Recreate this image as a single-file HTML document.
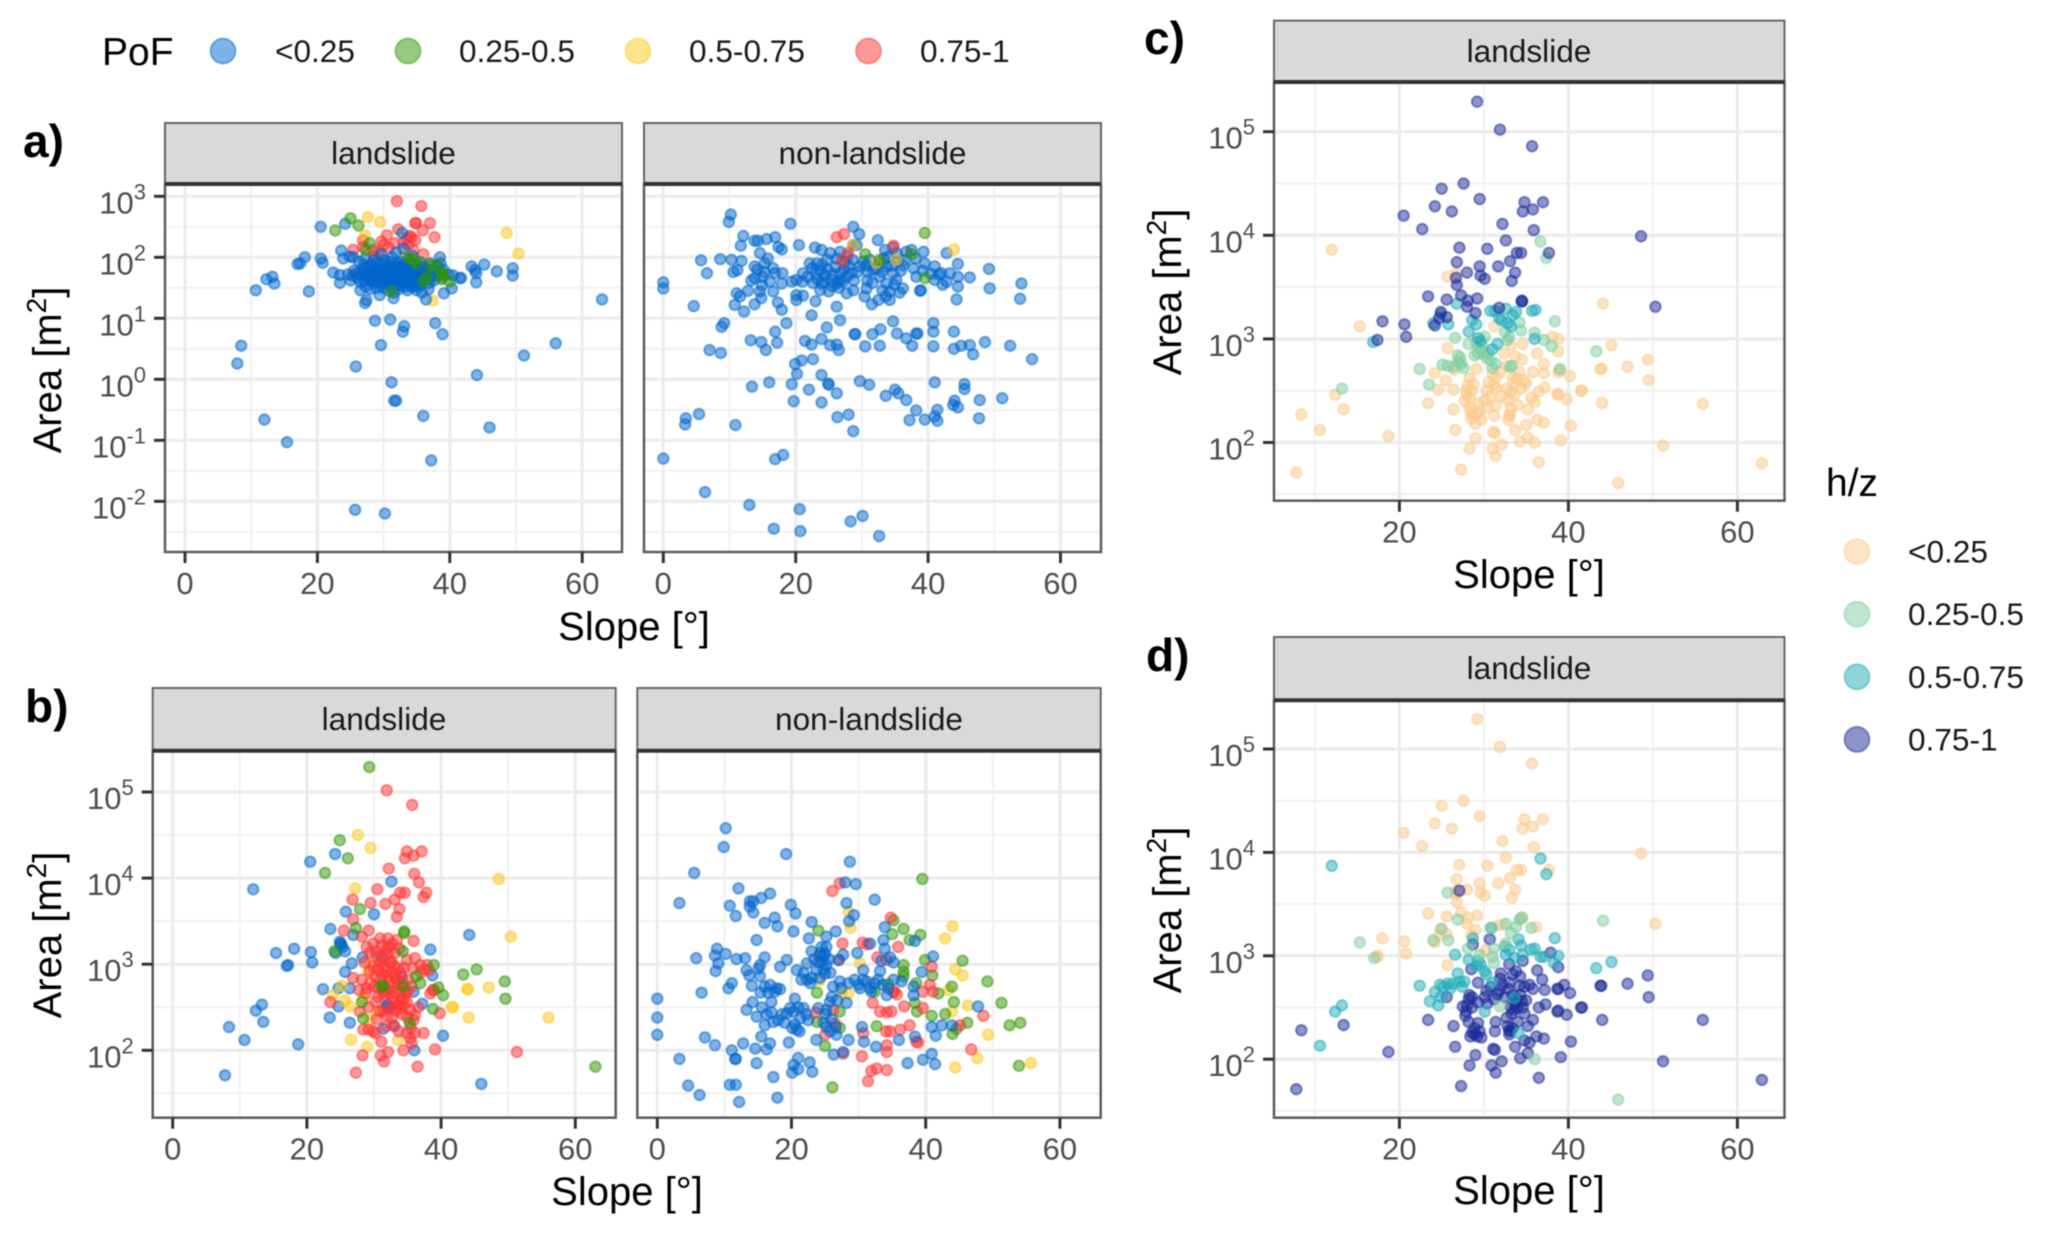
<!DOCTYPE html>
<html lang="en">
<head>
<meta charset="utf-8">
<title>Landslide area against slope by PoF and h/z class</title>
<style>
html,body{margin:0;padding:0;background:#fff;width:2056px;height:1234px;overflow:hidden}
svg{display:block;filter:blur(0.6px);font-family:"Liberation Sans",Arial,sans-serif}
.strip{fill:#d9d9d9;stroke:#666;stroke-width:2}
.stripline{stroke:#333;stroke-width:4}
.striptext{font-size:31.6px;fill:#1a1a1a;text-anchor:middle}
.axt{font-size:40px;fill:#000;text-anchor:middle}
.tag{font-size:46px;font-weight:bold;fill:#000}
.leg{font-size:31.6px;fill:#1a1a1a}
.legt{font-size:39px;fill:#000}
.tick{font-size:31px;fill:#4d4d4d}
.border{fill:none;stroke:#5c5c5c;stroke-width:2.5}
</style>
</head>
<body>
<svg xmlns="http://www.w3.org/2000/svg" width="2056" height="1234" viewBox="0 0 2056 1234">
<rect x="0" y="0" width="2056" height="1234" fill="#fff"/>

<g>
<text class="legt" x="102" y="65">PoF</text>
<circle cx="223" cy="51" r="12.5" fill="#0066cc" fill-opacity=".5" stroke="#0066cc" stroke-opacity=".45" stroke-width="2"/>
<text class="leg" x="275" y="62">&lt;0.25</text>
<circle cx="408" cy="51" r="12.5" fill="#2f9600" fill-opacity=".5" stroke="#2f9600" stroke-opacity=".45" stroke-width="2"/>
<text class="leg" x="459" y="62">0.25-0.5</text>
<circle cx="638" cy="51" r="12.5" fill="#ffc61a" fill-opacity=".5" stroke="#ffc61a" stroke-opacity=".45" stroke-width="2"/>
<text class="leg" x="689" y="62">0.5-0.75</text>
<circle cx="868.5" cy="51" r="12.5" fill="#ff3333" fill-opacity=".5" stroke="#ff3333" stroke-opacity=".45" stroke-width="2"/>
<text class="leg" x="920" y="62">0.75-1</text>
</g>

<g>
<text class="legt" x="1826" y="496">h/z</text>
<circle cx="1857" cy="551.6" r="12.5" fill="#fcc98c" fill-opacity=".5" stroke="#fcc98c" stroke-opacity=".45" stroke-width="2"/>
<text class="leg" x="1908" y="562.6">&lt;0.25</text>
<circle cx="1857" cy="614.2" r="12.5" fill="#7fcd9f" fill-opacity=".5" stroke="#7fcd9f" stroke-opacity=".45" stroke-width="2"/>
<text class="leg" x="1908" y="625.2">0.25-0.5</text>
<circle cx="1857" cy="676.8" r="12.5" fill="#20acb9" fill-opacity=".5" stroke="#20acb9" stroke-opacity=".45" stroke-width="2"/>
<text class="leg" x="1908" y="687.8">0.5-0.75</text>
<circle cx="1857" cy="739.4" r="12.5" fill="#1a2a98" fill-opacity=".5" stroke="#1a2a98" stroke-opacity=".45" stroke-width="2"/>
<text class="leg" x="1908" y="750.4">0.75-1</text>
</g>

<text class="tag" x="23" y="157">a)</text>
<text class="tag" x="25" y="722">b)</text>
<text class="tag" x="1144" y="54">c)</text>
<text class="tag" x="1146" y="671">d)</text>

<g id="panel-a1"></g>
<g id="panel-a2"></g>
<g id="panel-b1"></g>
<g id="panel-b2"></g>
<g id="panel-c"></g>
<g id="panel-d"></g>

<g><rect class="strip" x="165" y="123" width="457" height="61"/><line class="stripline" x1="165" x2="622" y1="184" y2="184"/><text class="striptext" x="393.5" y="164">landslide</text></g>
<g><rect class="strip" x="644" y="123" width="457" height="61"/><line class="stripline" x1="644" x2="1101" y1="184" y2="184"/><text class="striptext" x="872.5" y="164">non-landslide</text></g>
<g><rect class="strip" x="152.7" y="688" width="463" height="62.7"/><line class="stripline" x1="152.7" x2="615.7" y1="750.7" y2="750.7"/><text class="striptext" x="384" y="730">landslide</text></g>
<g><rect class="strip" x="637.3" y="688" width="463.4" height="62.7"/><line class="stripline" x1="637.3" x2="1100.7" y1="750.7" y2="750.7"/><text class="striptext" x="869" y="730">non-landslide</text></g>
<g><rect class="strip" x="1274" y="20.6" width="510.5" height="61.4"/><line class="stripline" x1="1274" x2="1784.5" y1="82" y2="82"/><text class="striptext" x="1529" y="62">landslide</text></g>
<g><rect class="strip" x="1274" y="637" width="510.5" height="63.3"/><line class="stripline" x1="1274" x2="1784.5" y1="700.3" y2="700.3"/><text class="striptext" x="1529" y="679">landslide</text></g>

<text class="axt" x="634" y="640">Slope [°]</text>
<text class="axt" x="627" y="1205">Slope [°]</text>
<text class="axt" x="1529" y="588">Slope [°]</text>
<text class="axt" x="1529" y="1204">Slope [°]</text>
<text class="axt" transform="translate(61,370) rotate(-90)">Area [m<tspan dy="-15" font-size="28">2</tspan><tspan dy="15">]</tspan></text>
<text class="axt" transform="translate(61,935) rotate(-90)">Area [m<tspan dy="-15" font-size="28">2</tspan><tspan dy="15">]</tspan></text>
<text class="axt" transform="translate(1181,292) rotate(-90)">Area [m<tspan dy="-15" font-size="28">2</tspan><tspan dy="15">]</tspan></text>
<text class="axt" transform="translate(1181,910) rotate(-90)">Area [m<tspan dy="-15" font-size="28">2</tspan><tspan dy="15">]</tspan></text>
</svg>

<script>
// Values: each pair is [slope in degrees, log10 of area in m2].
const slopeTicksFull = [0, 20, 40, 60];
const slopeTicksShort = [20, 40, 60];
const slopeMinorTicks = [10, 30, 50];
const areaExponentsA = [3, 2, 1, 0, -1, -2];
const areaMinorA = [2.5, 1.5, 0.5, -0.5, -1.5, -2.5];
const areaExponentsB = [5, 4, 3, 2];
const areaMinorB = [4.5, 3.5, 2.5, 1.5];

const aLandslideBlue = [[20.5,2.5],[24.2,2.55],[63,1.31],[8.5,.55],[7.9,.26],[25.8,.21],[29.6,.56],[28.7,.96],[31,.98],[33.1,.87],[32.9,.78],[37.8,.92],[38.9,.74],[56,.59],[51.2,.39],[44.1,.07],[31.2,-.05],[31.6,-.35],[31.9,-.35],[12,-.66],[15.4,-1.03],[36,-.6],[46,-.79],[37.2,-1.33],[25.7,-2.14],[30.2,-2.2],[10.7,1.46],[12.3,1.64],[13.2,1.68],[13.5,1.57],[18.7,1.44],[17,1.89],[17.4,1.9],[18.1,2],[20.5,1.98],[20.8,1.91],[22.4,1.75],[23.4,1.58],[23.6,2.11],[23.9,1.98],[24.9,2.01],[23.4,1.71],[26.5,1.46],[27.2,1.25],[27.4,1.3],[43.3,1.85],[45.2,1.88],[43.8,1.79],[44,1.74],[47.1,1.77],[49.5,1.82],[49.5,1.7],[44,1.59],[41.5,1.66],[41.7,1.66],[40.3,1.49],[39.1,1.41],[36.4,1.31],[31.5,1.33],[29.4,1.38],[38.5,2],[38.6,1.9],
[24.6,1.72],[25.5,1.78],[26.1,1.66],[26.8,1.8],[27.4,1.7],[27.9,1.62],[28.3,1.84],[28.8,1.75],[29.2,1.66],[29.7,1.8],[30.1,1.58],[30.4,1.72],[30.9,1.86],[31.2,1.64],[31.7,1.77],[32,1.56],[32.4,1.7],[32.8,1.83],[33.1,1.62],[33.5,1.75],[33.9,1.68],[34.3,1.58],[34.7,1.8],[35.1,1.7],[35.5,1.62],[35.9,1.76],[36.4,1.67],[36.9,1.58],[37.2,1.73],[25,1.62],[25.9,1.74],[26.5,1.59],[27,1.75],[27.6,1.84],[28.1,1.68],[28.6,1.58],[29,1.72],[29.5,1.88],[30,1.68],[30.6,1.8],[31,1.54],[31.4,1.7],[31.9,1.62],[32.2,1.84],[32.6,1.6],[33,1.72],[33.3,1.52],[33.7,1.85],[34,1.76],[34.5,1.66],[34.9,1.52],[35.3,1.8],[35.7,1.56],[36.2,1.72],[36.7,1.8],[37.6,1.62],[38,1.7],[28,1.48],[28.9,1.5],[29.9,1.5],[30.7,1.46],[32.3,1.48],[33.6,1.46],[35,1.46],[35.8,1.42],[36.8,1.48],[27.3,1.52],[31.6,1.42],[30.2,1.95],[31.3,2],[32.5,1.92],[28.5,1.95],[27.2,1.98],[26.3,1.93],[25.4,2],[33.6,1.95],[34.4,2.02],[35.6,1.92],[37,1.9],[38.2,1.85],[39,1.8],[39.8,1.72],[40.5,1.7],[29.6,2.05],[31.9,2.08],[33,2.14],[32.8,2.4]];
const aLandslideBlueDense = [[25.3,1.7],[26.4,1.72],[27.1,1.62],[27.8,1.73],[28.2,1.78],[28.5,1.66],[29.1,1.82],[29.4,1.7],[29.9,1.62],[30.3,1.8],[30.5,1.64],[30.8,1.74],[31.1,1.82],[31.3,1.6],[31.6,1.72],[31.9,1.84],[32.1,1.66],[32.3,1.76],[32.7,1.72],[32.9,1.64],[33.2,1.8],[33.4,1.68],[33.8,1.6],[34.1,1.72],[34.4,1.82],[34.6,1.62],[35,1.76],[35.4,1.68],[35.8,1.62],[36.1,1.8],[36.6,1.72],[37,1.66],[28.4,1.62],[29.6,1.56],[30.7,1.58],[31.8,1.54],[32.5,1.54],[33.5,1.58],[34.2,1.52],[35.2,1.56],[30,1.9],[31,1.92],[32,1.9],[33,1.88],[34,1.9],[29,1.92],[28,1.88],[27,1.88],[35,1.86],[36,1.84],[38.4,1.76],[38.9,1.68]];
const aLandslideGreen = [[25,2.64],[26.2,2.52],[22.7,2.44],[27.9,2.23],[27.3,2.12],[34.5,1.96],[38,1.87],[38.8,1.74],[38.8,1.64],[40,1.6],[36,1.6],[31.2,1.44],[35,1.9],[37.2,1.86],[39,1.72],[33.8,1.98],[36.6,1.68]];
const aLandslideYellow = [[27.6,2.66],[29.5,2.58],[27.2,2.36],[48.6,2.4],[50.4,2.06],[37.4,1.29],[33,2.01],[36,1.93],[36.7,1.91],[33.6,2.02]];
const aLandslideRed = [[32,2.92],[35.7,2.84],[34.8,2.56],[34.9,2.56],[37,2.56],[35.9,2.44],[37.7,2.33],[32.2,2.46],[34.2,2.33],[33.5,2.31],[30.5,2.36],[29.7,2.26],[26.9,2.28],[31.7,2.23],[33.7,2.2],[25.4,2.12],[26.9,2.17],[29.2,2.09],[34.5,2.12],[36,2.05],[28.4,2.12],[30,2.2],[33,2.24],[34.8,2.28],[28.6,2.02],[33.9,2.35],[30.8,2.16]];

const aOtherBlue = [[10.2,2.7],[9.9,2.58],[19.2,2.55],[28.7,2.5],[29.6,2.38],[12.1,2.35],[13.8,2.27],[14.3,2.27],[15.6,2.3],[16.9,2.33],[11.7,2.19],[17.4,2.17],[17.9,2.13],[20.5,2.2],[22.9,2.16],[23.9,2.12],[32.4,2.28],[5.7,1.95],[8.6,1.97],[10.3,1.96],[11.8,1.94],[14.6,2.07],[6.6,1.74],[10.6,1.76],[11.2,1.79],[0,1.59],[0,1.49],[4.6,1.2],[13.8,1.85],[15.3,1.9],[15.3,1.76],[13.8,1.66],[13.3,1.62],[16.9,1.74],[18,1.74],[16.1,1.6],[17.9,1.57],[19.4,1.6],[20.1,1.63],[21.1,1.74],[22.1,1.9],[23.2,1.9],[23.7,1.79],[24.4,1.71],[22.6,1.58],[23.9,1.57],[25.4,1.63],[26.2,1.57],[26.7,1.74],[27.7,1.68],[28.4,1.74],[25.2,2.07],[26.7,2.09],[24.7,1.96],[26.2,1.98],[27.2,1.6],[27.7,1.41],[28.7,1.46],[25,1.44],[23.7,1.46],[12.8,1.45],[11.1,1.41],[11.6,1.36],[10.8,1.22],[12.2,1.11],[13.8,1.23],[14.8,1.33],[14.6,1.44],[16.6,1.44],[17.3,1.26],[17.9,1.14],[20.1,1.3],[20.1,1.38],[21.1,1.37],[23,1.28],[26.2,1.19],[22.4,1.05],[26.7,.97],[9.2,.92],[8.8,.86],[18.6,.92],[16.9,.78],[13.2,.64],[14.8,.61],[15.5,.48],[17.2,.6],[7,.48],[8.7,.43],[24.7,.85],[28.9,.74],[29,.74],[31.6,.74],[32.8,.82],[34.7,.95],[35.3,.75],[40.8,.92],[40.8,.78],[43.9,.78],[38.2,.75],[38.4,.75],[36.7,.67],[21.4,.63],[22.4,.57],[23.9,.66],[25.2,.56],[26.2,.57],[26.5,.48],[30.5,.54],[32.7,.55],[37.6,.55],[40.8,.54],[43.9,.5],[45,.55],[46.3,.56],[46.8,.41],[48.6,.61],[52.4,.55],[55.7,.33],[22.6,.33],[20.9,.31],[19.9,.25],[20.2,.09],[23.9,.07],[24.9,-.07],[25,-.09],[26.2,-.23],[22,-.17],[19.4,-.08],[16,-.05],[13.4,-.12],[19.7,-.36],[23.9,-.38],[29.7,-.03],[31.1,-.09],[33.6,-.27],[35,-.17],[35.5,-.23],[36.7,-.34],[41,-.05],[45.5,-.08],[45.5,-.16],[47.8,-.34],[51.2,-.31],[43.8,-.42],[44.5,-.46],[44,-.35],[38.2,-.51],[41.4,-.5],[41,-.61],[41.4,-.68],[39.5,-.66],[37.2,-.67],[47.7,-.64],[26.3,-.62],[28,-.58],[28.7,-.85],[10.9,-.75],[5.4,-.57],[3.4,-.64],[3.3,-.74],[0,-1.3],[16.9,-1.31],[18.1,-1.24],[6.3,-1.85],[13,-2.06],[20.6,-2.13],[30.1,-2.24],[28.3,-2.33],[16.7,-2.45],[20.7,-2.49],[32.6,-2.57],[30.7,1.87],[31.7,1.79],[32.7,1.9],[33.7,1.85],[34.7,1.74],[36.2,1.87],[34,2.01],[35.2,2.07],[36.7,2.09],[39.3,2.09],[39.5,1.9],[41,1.85],[42.8,2.07],[44.5,1.89],[49.2,1.81],[46.3,1.67],[49.3,1.49],[54.1,1.57],[53.9,1.32],[44.3,1.31],[38.8,1.45],[38.9,1.46],[36.2,1.49],[34.2,1.3],[32.5,1.3],[31.5,1.23],[30.4,1.36],[30.7,1.49],[33.7,1.57],[34.2,1.44],[32.7,1.68],[35.2,1.63],[38.2,1.68],[41,1.63],[42,1.74],[43.3,1.74],[44.5,1.68],[42.8,1.6],[42.2,1.55],[44.5,1.52],[29.7,1.85],[30.2,1.93],[28.7,2.2],[29.2,2.2]];
const aOtherBlueDense = [[22.5,1.82],[23,1.74],[24,1.88],[24.8,1.8],[25.6,1.72],[26,1.84],[26.8,1.62],[27.3,1.8],[28,1.86],[28.8,1.62],[29.3,1.76],[25.5,1.53],[26.5,1.5],[24.3,1.6],[23.3,1.64],[21.8,1.68],[21,1.6],[15,1.68],[14.2,1.8],[15.8,1.98],[16.6,1.82],[14.9,1.54],[27.4,1.92],[28.6,1.96],[27.8,2.02],[30.9,1.76],[31.2,1.96],[32.1,1.82],[33.1,1.76],[33.3,1.98],[34.5,1.86],[35.4,1.94],[35.9,1.78],[36.5,1.96],[34.9,1.55],[33.1,1.46],[33.6,1.36],[37.8,1.82],[38.1,1.98],[39.2,1.78],[37.5,2.12],[33.5,2.12],[34.7,2.16],[30.8,1.62],[31.6,1.58],[35.7,1.42],[40.4,1.73],[41.6,1.72]];
const aOtherGreen = [[39.5,2.4],[30.5,2.05],[37.5,2.05],[39.5,1.66],[32.7,1.96]];
const aOtherYellow = [[43.9,2.13],[28.7,2.2],[35.2,1.96],[32.2,1.91]];
const aOtherRed = [[26.2,2.33],[27.3,2.38],[27,1.94],[34.8,2.19],[27.9,2.07]];

const bLandslideBlue = [[12,3.87],[20.5,4.19],[24.2,4.28],[32.6,3.96],[25.8,3.61],[30,3.58],[23.5,3.41],[26.9,3.34],[44.2,3.34],[38.4,3.17],[25.1,3.23],[24.9,3.26],[25.7,3.15],[24.3,3.13],[15.4,3.13],[18.1,3.18],[20.6,3.14],[20.8,3.02],[17.2,2.99],[17,2.98],[26.7,3.01],[25.7,2.91],[28.3,3.08],[31.1,3.09],[38.7,2.87],[34.1,2.86],[22.4,2.71],[26.4,2.72],[24.7,2.72],[37.2,2.54],[31.9,2.51],[24.7,2.51],[13.3,2.53],[12.4,2.46],[13.5,2.33],[8.4,2.27],[10.7,2.12],[18.7,2.07],[23.4,2.38],[26.4,2.32],[31.4,2.25],[40.3,2.17],[36,2],[7.8,1.71],[46,1.61],[33,2.28],[35.9,2.68],[25.3,3.2],[25,3.24],[32,2.53],[32.2,2.49]];
const bLandslideGreen = [[29.3,5.29],[24.9,4.44],[26.1,4.23],[22.7,4.06],[27.9,3.64],[27.3,3.42],[34.5,3.38],[24.1,3.15],[34.3,3.15],[38.9,2.99],[36.3,2.86],[43.3,2.88],[45.3,2.94],[49.5,2.8],[49.6,2.6],[40.3,2.64],[39.6,2.73],[31.1,2.75],[36.9,2.78],[34.4,2.74],[28.2,2.56],[28.4,2.37],[35.3,2.32],[63,1.81],[38.8,2.48],[31.4,2.74],[34.5,3.36]];
const bLandslideYellow = [[27.6,4.5],[29.5,4.35],[27.2,3.88],[48.6,3.99],[50.4,3.32],[29.4,2.99],[29.2,2.91],[25.2,2.75],[23.9,2.64],[25.7,2.58],[26.4,2.51],[28.4,2.6],[43.9,2.71],[44,2.71],[47.1,2.73],[41.6,2.5],[41.8,2.5],[44.1,2.38],[56,2.38],[26.6,2.12],[29,2.04],[33.6,2.12],[29.4,2.35],[30.4,2.45]];
const bLandslideRed = [[31.9,5.02],[35.7,4.85],[34.9,4.31],[37.1,4.31],[34.6,4.23],[35.9,4.26],[32.2,4.11],[36,4.05],[36.7,3.95],[30.5,3.87],[33.9,3.83],[34.6,3.83],[37.8,3.83],[37.4,3.78],[26.8,3.75],[29.5,3.71],[31.7,3.7],[33.1,3.75],[33.8,3.64],[33.4,3.55],[26.9,3.52],[25.5,3.39],[29.2,3.39],[28.2,3.32],[30.9,3.3],[32.1,3.3],[33.4,3.28],[35.9,3.27],[28.9,3.2],[29.9,3.24],[31.9,3.18],[33.1,3.13],[29.4,3.13],[34.9,3.05],[32.6,3.03],[36.1,3.07],[36.9,2.99],[37.9,2.99],[31.4,2.97],[33.6,2.95],[29.4,2.92],[26.9,2.84],[28.2,2.82],[30.2,2.86],[32.1,2.86],[33.4,2.82],[29.4,2.78],[30.7,2.72],[32.6,2.74],[33.6,2.76],[35.1,2.82],[38.8,2.7],[38.9,2.7],[31.6,2.64],[32.9,2.62],[34.1,2.58],[34.9,2.56],[30.2,2.56],[33.6,2.53],[34.4,2.51],[35.4,2.47],[30.9,2.45],[23.5,2.56],[27.9,2.45],[31.9,2.41],[36.1,2.41],[35.9,2.35],[39.8,2.43],[28.4,2.24],[29.2,2.24],[29.9,2.22],[32.9,2.29],[34.9,2.2],[36.1,2.2],[37.4,2.2],[35.4,2.14],[31.1,2.1],[35.6,2.08],[34.4,2],[39.1,2.01],[32.1,1.98],[31,1.94],[28.3,1.94],[31.5,1.87],[36.5,1.81],[51.3,1.98],[27.3,1.74],[32.4,3.02],[32.8,2.9],[31,2.82],[31.9,2.7],[33.2,2.68],[30.4,3.1],[32.2,3.2],[28.6,3.02],[35.8,2.95],[34.6,2.66]];
const bLandslideRedDense = [[31.2,3.22],[32.7,3.24],[30.3,3.15],[33.8,3.18],[31.5,3.06],[32,3.12],[33,2.98],[31.9,2.92],[31.2,2.88],[32.4,2.8],[33.1,2.86],[33.9,2.9],[34.5,2.96],[30.6,2.94],[29.9,2.98],[30.1,2.74],[31.4,2.68],[32.2,2.66],[33,2.56],[34,2.68],[35,2.68],[35.6,2.74],[33.3,2.46],[32.6,2.5],[34.5,2.6],[33.8,2.48],[30.6,2.62],[29.2,2.5],[28.8,2.66],[30.4,2.36],[31.4,2.46],[32.7,2.38],[34.2,2.42],[35,2.38],[36.6,2.5],[37,2.9],[37.5,2.94],[38.2,2.93],[38.4,2.66],[28.9,2.72],[27.8,2.7],[30.9,3.02],[34.2,2.8],[30.2,2.2],[31.8,2.28],[33.7,2.22],[35.5,2.26]];

const bOtherBlue = [[10.2,4.58],[9.9,4.36],[19.2,4.28],[5.5,4.06],[28.7,4.19],[28,3.95],[29.6,3.93],[12.1,3.88],[16.8,3.82],[3.3,3.71],[13.8,3.73],[14.3,3.73],[15.5,3.77],[10.8,3.68],[13.8,3.67],[14.3,3.6],[11.7,3.56],[19.9,3.69],[20.6,3.59],[32.4,3.75],[28.2,3.71],[29.3,3.57],[28.6,3.5],[17.5,3.54],[16,3.48],[17.9,3.44],[23,3.49],[20.3,3.38],[14.8,3.28],[33.9,3.43],[26.6,3.38],[25.2,3.32],[22.6,3.3],[8.9,3.18],[8.6,3.1],[10.2,3.12],[5.8,3.07],[9.1,3.01],[8.7,2.92],[11.8,3.06],[13.1,3.07],[13.3,2.93],[13.7,2.87],[16,3.08],[15.3,2.99],[15.1,2.95],[15.3,2.86],[19.3,3.05],[18.3,2.97],[20.8,2.93],[11.1,2.78],[10.6,2.72],[14.1,2.75],[6.6,2.67],[15.4,2.67],[16.8,2.76],[16.5,2.67],[17.5,2.68],[18.3,2.71],[17,2.56],[14.2,2.56],[13.3,2.47],[0,2.6],[0,2.38],[0,2.18],[14.8,2.39],[16.3,2.42],[16,2.29],[17.3,2.33],[18,2.35],[19.3,2.43],[19.8,2.49],[20.5,2.6],[20.3,2.45],[21.8,2.49],[21.3,2.37],[22.5,2.35],[20.1,2.26],[20.8,2.24],[7.1,2.15],[8.6,2.06],[12.8,2.08],[15.5,2.16],[16.8,2.08],[14.6,2.02],[16.3,2.01],[19.6,2.09],[23.7,2.12],[11.1,2],[11.6,1.9],[11.7,1.9],[3.3,1.9],[14.8,1.85],[21,1.91],[20.3,1.83],[21,1.78],[20.1,1.74],[22.7,1.86],[23.1,1.75],[17.3,1.69],[4.6,1.59],[6.3,1.48],[10.8,1.6],[11.7,1.6],[17.9,1.45],[12.2,1.4],[22.3,3.01],[23,3.15],[24.5,3.2],[25.2,3.2],[24.3,3.13],[24.5,3.03],[23.7,2.93],[25.2,2.99],[25,2.89],[24.2,2.84],[21.5,2.82],[22.3,2.82],[23,2.84],[27.7,3.11],[27,3.05],[26.2,2.74],[27.2,2.8],[29.8,3.13],[30.7,2.93],[30.7,2.82],[30.2,2.72],[31.7,2.72],[32.4,2.78],[33.2,2.92],[32.9,2.82],[31.7,3.24],[33.7,3.28],[33.9,3.18],[34.7,3.08],[38.4,3.27],[41.1,3.09],[39.4,2.91],[35.2,2.82],[36.4,2.8],[34.2,2.64],[38.2,2.74],[38.2,2.64],[25.7,2.56],[24,2.49],[25.2,2.47],[28.2,2.55],[25.2,2.27],[26.7,2.18],[26.6,2.27],[30.5,2.27],[30.8,2.1],[28.5,2.12],[26.3,1.95],[27.7,1.98],[32.6,2.04],[36,2.12],[38.4,2.16],[40.9,2.27],[42.4,2.29],[43.9,2.29],[41.5,2.17],[47.8,2.51],[40.9,1.96],[39.6,1.89],[41.4,1.84],[37.3,1.85]];
const bOtherBlueDense = [[24.8,3.1],[25.6,3.06],[24,3.02],[25,3.12],[23.4,3.06],[25.8,2.9],[24.8,2.94],[22.8,2.78],[21.8,2.9],[27.4,2.72],[28.5,2.78],[29.4,2.82],[30,2.76],[31.2,2.8],[31.9,2.68],[33.6,2.76],[34.4,2.72],[26,2.62],[26.8,2.58],[25.1,2.42],[26,2.36],[24.8,2.32],[25.8,2.22],[22.2,2.42],[21,2.5],[18.6,2.42],[19,2.32],[17,2.44],[15.6,2.5],[17.8,2.72],[16,2.74],[21.2,2.22],[20.5,2.3],[35.2,3.02],[33.4,3.04]];
const bOtherGreen = [[39.5,3.99],[24,3.39],[35.2,3.51],[36.7,3.41],[35,3.35],[37.6,3.28],[39.2,3.34],[45.5,3.04],[39.9,3.05],[36.7,2.99],[36.7,2.91],[36.7,2.86],[41,2.87],[49.2,2.8],[43.9,2.74],[38.6,2.78],[34.4,2.77],[41.9,2.66],[23.8,2.67],[32.4,2.68],[51.3,2.55],[44.2,2.56],[38.4,2.55],[38.7,2.45],[40.9,2.4],[42.9,2.42],[46.2,2.32],[52.5,2.29],[54.1,2.32],[44.6,2.25],[44,2.19],[32.7,2.28],[23.8,2.33],[27.2,2.45],[27.2,2.26],[25,2.05],[53.9,1.82],[26.1,1.57]];
const bOtherYellow = [[28.5,3.61],[28.8,3.42],[44,3.44],[42.9,3.3],[30.2,3.01],[44.4,2.94],[45.5,2.87],[24.2,2.81],[27.5,2.66],[28.5,2.66],[43.4,2.7],[46.3,2.52],[43.9,2.45],[49.3,2.18],[47.7,1.91],[44.4,1.8],[55.7,1.85]];
const bOtherRed = [[27.2,3.94],[26.1,3.85],[34.8,3.54],[27.6,3.24],[30.6,3.25],[31.3,3.23],[35.9,3.2],[24.2,3.09],[27.1,3.05],[32.8,3.08],[34.2,3.05],[40.9,2.97],[40.6,2.76],[39.6,2.68],[35.2,2.68],[35.3,2.68],[35.7,2.65],[41.1,2.68],[32.1,2.55],[33.2,2.45],[34.2,2.44],[34.9,2.45],[36.8,2.51],[39.6,2.49],[23.6,2.44],[26.2,2.47],[26.5,2.31],[25,2.18],[30.7,2.2],[34.1,2.22],[34.7,2.22],[36.2,2.24],[37.6,2.29],[38.6,2.1],[38.9,2.09],[34.2,2.06],[34.2,1.98],[27.7,1.96],[30.5,1.93],[48.6,2.4],[45.1,2.29],[46.8,2.01],[32.7,1.79],[31.9,1.76],[34.2,1.77],[31.4,1.64]];

const cNavy = [[29.2,5.29],[31.9,5.02],[35.7,4.86],[27.6,4.5],[25,4.45],[29.5,4.35],[24.2,4.28],[26.2,4.23],[20.5,4.19],[22.7,4.06],[34.8,4.32],[37,4.32],[34.6,4.23],[35.8,4.25],[32.2,4.11],[35.9,4.05],[32.6,3.95],[48.6,3.99],[27.1,3.88],[30.4,3.87],[33.9,3.83],[34.4,3.83],[37.7,3.83],[26.8,3.74],[29.5,3.7],[31.7,3.7],[33.1,3.75],[28,3.64],[33.7,3.64],[29.6,3.61],[30.1,3.58],[33.3,3.56],[26.7,3.59],[26.8,3.52],[23.4,3.41],[25.6,3.38],[27.3,3.42],[28.1,3.37],[29.2,3.39],[28,3.31],[34.5,3.37],[34.5,3.36],[31.8,3.3],[50.3,3.31],[29,3.25],[24.9,3.26],[25.6,3.21],[24.7,3.2],[24.2,3.13],[18,3.17],[20.6,3.14],[17.4,2.99],[20.8,3.02]];
const cTeal = [[26.8,3.34],[30.8,3.27],[32.6,3.29],[33.8,3.26],[33.4,3.23],[35.7,3.27],[36.1,3.28],[34.5,3.36],[28.6,3.18],[31.8,3.2],[32.8,3.15],[33.2,3.12],[24,3.15],[25.8,3.14],[16.9,2.97],[28.2,3.07],[29.3,3.01],[31.6,2.95],[31,2.9],[36,3],[31.3,3.27],[32.1,3.18],[29.1,3.14],[29.6,2.98],[24.9,3.24]];
const cGreen = [[36.7,3.94],[37.4,3.78],[38.4,3.17],[34.2,3.16],[34.4,3.08],[36,3.06],[37.1,2.99],[38,2.93],[43.3,2.88],[26.6,3.01],[28.2,2.95],[29.3,2.92],[30.1,3.02],[29.9,2.86],[32.5,3.07],[32.8,2.99],[26.9,2.84],[25.1,2.75],[25.7,2.74],[27.3,2.76],[22.4,2.71],[23.5,2.56],[13.2,2.52],[31,2.72],[33.1,2.73],[39,2.71],[30.8,2.79],[29.3,2.86],[29.1,2.97],[27,2.78],[27.6,2.72],[26.4,2.73],[33.3,2.74],[30.3,2.82],[29.6,2.9],[28.9,2.84],[29.8,2.94],[30.5,2.86],[27.2,2.82],[31.4,2.76],[33,3.02]];
const cPeach = [[12,3.86],[26.7,3.63],[25.7,3.6],[44.1,3.34],[15.3,3.12],[25.7,2.91],[45.1,2.94],[38.1,3.02],[38.8,3],[38.8,2.88],[31.2,3.12],[34.6,2.95],[36.3,2.86],[33.2,2.94],[33.7,2.83],[32.4,2.86],[49.4,2.8],[47,2.73],[43.8,2.71],[43.9,2.71],[49.5,2.6],[40.2,2.64],[38.8,2.68],[39,2.69],[37.1,2.76],[35.8,2.68],[37.1,2.67],[34.2,2.68],[24.2,2.67],[26.5,2.7],[25.5,2.6],[28.3,2.62],[31.4,2.63],[29.1,2.71],[32,2.68],[33.6,2.57],[35,2.57],[24.6,2.51],[26.4,2.51],[27.9,2.5],[30.3,2.5],[31.4,2.52],[33.2,2.49],[36.5,2.49],[37.2,2.53],[38.7,2.47],[38.8,2.46],[41.5,2.5],[41.6,2.5],[39.8,2.42],[12.4,2.46],[23.4,2.38],[44,2.38],[55.9,2.37],[13.4,2.32],[8.4,2.27],[26.4,2.32],[28.3,2.43],[30.1,2.41],[32.8,2.41],[36,2.39],[28.3,2.34],[31.4,2.36],[34,2.36],[35.2,2.32],[29.5,2.3],[33,2.26],[33.1,2.27],[28.5,2.23],[29.7,2.22],[31.2,2.26],[36.3,2.22],[37.1,2.19],[40.3,2.16],[10.6,2.12],[18.7,2.06],[26.6,2.12],[29,2.04],[31.1,2.1],[31.3,2.09],[33.7,2.12],[35,2.17],[35.2,2.05],[34.3,2.01],[36,2],[39.1,2.02],[32.1,1.98],[31,1.94],[28.3,1.94],[31.4,1.87],[36.5,1.81],[51.2,1.97],[62.9,1.8],[27.3,1.74],[7.8,1.71],[45.9,1.61],[28.1,2.55],[30.6,2.58],[33.9,2.62],[34.8,2.6],[27.7,2.4],[32.1,2.45],[35.6,2.43],[29,2.18],[28.8,2.56],[31,2.66],[32.7,2.74],[34.5,2.8],[28,2.46],[28.6,2.5],[29.4,2.38],[30.4,2.34],[30.8,2.44],[31.2,2.56],[33.6,2.46],[34.4,2.52],[33.4,2.62],[32.6,2.52],[28.8,2.26],[29.2,2.28],[28.4,2.3],[33.2,2.33],[32.9,2.22]];

const dNavy = [[27.1,3.63],[8.4,2.28],[13.4,2.33],[18.7,2.07],[7.8,1.71],[23.4,2.38],[26.4,2.32],[25.6,2.6],[26.6,2.12],[27.3,1.74],[28.3,1.94],[29,2.04],[30.9,1.94],[31.4,1.87],[32.1,1.98],[31.1,2.1],[31.3,2.09],[33.7,2.12],[34.3,2.01],[35.2,2.06],[34.8,2.18],[35.4,2.16],[36.2,2.22],[37.1,2.2],[39.1,2.02],[40.3,2.17],[36.5,1.82],[51.2,1.98],[62.9,1.8],[55.9,2.38],[44,2.38],[49.5,2.6],[49.4,2.81],[47,2.73],[43.8,2.71],[43.9,2.71],[41.5,2.5],[41.6,2.5],[40.2,2.64],[39.8,2.43],[38.7,2.68],[38.8,2.68],[38.7,2.46],[38.8,2.47],[39.5,2.72],[36.9,2.77],[36.3,2.86],[37.2,2.67],[35.8,2.68],[37.3,2.53],[36.5,2.5],[35.8,2.38],[35.2,2.32],[34,2.36],[33,2.28],[33.1,2.27],[32.7,2.4],[31.4,2.36],[31.3,2.27],[29.7,2.21],[29.3,2.35],[29.5,2.27],[28.9,2.24],[28.4,2.22],[28.2,2.36],[27.9,2.46],[27.5,2.51],[28.3,2.62],[28.2,2.58],[30.4,2.54],[30.3,2.66],[31.6,2.63],[31.8,2.67],[33.7,2.54],[33.8,2.59],[35,2.57],[34.2,2.71],[33,2.74],[32,2.83],[33.8,2.85],[33,2.92],[34.6,2.95],[37.9,3.03],[38.8,2.89],[28.5,2.87],[29.3,2.74],[30.7,3.16],[28.7,3.11],[33.6,2.48],[33.2,2.5],[32.5,2.6],[34.6,2.5],[31.9,2.78],[30.1,2.6],[29.3,2.55],[34.3,2.62],[32.9,2.68],[28.6,2.5],[28,2.52],[28.6,2.6],[27.8,2.42],[28.9,2.3],[30.8,2.7],[31.2,2.58],[32.2,2.72],[33.4,2.62],[33.9,2.5],[34.5,2.56],[34.8,2.44],[33.3,2.44],[33,2.24],[33.4,2.3],[32.8,2.32],[29.2,2.22],[28.6,2.26],[34.8,2.7],[35.4,2.72],[33.4,2.82],[34.3,2.8]];
const dTeal = [[36.7,3.94],[37.4,3.79],[12,3.87],[13.2,2.52],[12.4,2.46],[10.6,2.13],[22.4,2.71],[23.6,2.56],[24.6,2.52],[24.2,2.65],[24.8,2.72],[25.7,2.73],[26.3,2.73],[27.1,2.75],[27.7,2.75],[26.9,2.83],[26.6,3.01],[43.3,2.88],[45.1,2.94],[38.4,3.17],[38.8,3],[36,3.07],[34.1,3.16],[34.4,3.1],[34.6,3.01],[37.1,2.99],[36.7,2.99],[38.3,2.93],[32.5,3.09],[32.6,3.01],[29.3,2.95],[29.1,2.9],[28.2,2.96],[30.1,2.85],[30.9,3.27],[31,2.74],[30.1,2.46],[34.1,2.25],[33.6,2.59],[28.7,3.17],[25.2,2.7],[26,2.68],[24.9,2.6],[29.6,2.92],[30.3,2.82],[33,3.06],[33.6,2.98],[35.6,3.06],[27.4,2.7]];
const dGreen = [[25.7,3.61],[26.9,3.35],[25,3.26],[24,3.15],[25.8,3.15],[15.3,3.13],[17,2.98],[44.1,3.34],[34.5,3.37],[34.2,3.35],[35.6,3.27],[32.6,3.31],[33.8,3.28],[33.2,3.22],[30.8,3.27],[32.6,3.12],[31.2,3.07],[31,2.99],[31.2,2.93],[28.1,3.07],[29.5,3.01],[31.9,2.51],[36,2],[45.9,1.61]];
const dPeachExtra = [[25.7,2.91],[17.4,3],[26.7,3.63],[30.2,3.05],[28.5,3.2],[32.3,3.3],[36.2,3.28]];

const panelSeries = {
  a1: [[aLandslideRed, '#ff3333'], [aLandslideYellow, '#ffc61a'], [aLandslideBlue, '#0066cc'], [aLandslideBlueDense, '#0066cc'], [aLandslideGreen, '#2f9600']],
  a2: [[aOtherBlue, '#0066cc'], [aOtherBlueDense, '#0066cc'], [aOtherYellow, '#ffc61a'], [aOtherRed, '#ff3333'], [aOtherGreen, '#2f9600']],
  b1: [[bLandslideBlue, '#0066cc'], [bLandslideYellow, '#ffc61a'], [bLandslideRed, '#ff3333'], [bLandslideRedDense, '#ff3333'], [bLandslideGreen, '#2f9600']],
  b2: [[bOtherYellow, '#ffc61a'], [bOtherGreen, '#2f9600'], [bOtherRed, '#ff3333'], [bOtherBlue, '#0066cc'], [bOtherBlueDense, '#0066cc']],
  c: [[cPeach, '#fcc98c'], [cGreen, '#7fcd9f'], [cTeal, '#20acb9'], [cNavy, '#1a2a98']],
  d: [[cNavy, '#fcc98c'], [dPeachExtra, '#fcc98c'], [dNavy, '#1a2a98'], [dTeal, '#20acb9'], [dGreen, '#7fcd9f']]
};

const NS = 'http://www.w3.org/2000/svg';

function makeAxes(left, right, top, bottom, slopeOrigin, slopeStep, exponentRef, areaRef, areaStep) {
  return {
    left: left, right: right, top: top, bottom: bottom,
    x: function (slope) { return slopeOrigin + slope * slopeStep; },
    y: function (logArea) { return areaRef + (exponentRef - logArea) * areaStep; }
  };
}

const layout = {
  a1: makeAxes(165, 622, 184, 552, 185, 6.62, 3, 196.3, 61),
  a2: makeAxes(644, 1101, 184, 552, 663.3, 6.62, 3, 196.3, 61),
  b1: makeAxes(152.7, 615.7, 750.7, 1117.7, 172.7, 6.71, 5, 792, 86.1),
  b2: makeAxes(637.3, 1100.7, 750.7, 1117.7, 657.3, 6.71, 5, 792, 86.1),
  c: makeAxes(1274, 1784.5, 82, 500.7, 1230.4, 8.45, 5, 131.7, 103.6),
  d: makeAxes(1274, 1784.5, 700.3, 1117.7, 1230.4, 8.45, 5, 749, 103.4)
};

function addLine(parent, x1, y1, x2, y2, color, width) {
  const el = document.createElementNS(NS, 'line');
  el.setAttribute('x1', x1);
  el.setAttribute('y1', y1);
  el.setAttribute('x2', x2);
  el.setAttribute('y2', y2);
  el.setAttribute('stroke', color);
  el.setAttribute('stroke-width', width);
  parent.appendChild(el);
  return el;
}

function drawPanel(id, slopeTicks, exponents, areaMinor) {
  const axes = layout[id];
  const group = document.getElementById('panel-' + id);

  slopeMinorTicks.forEach(function (v) {
    const el = addLine(group, axes.x(v), axes.top, axes.x(v), axes.bottom, '#f1f1f1', 2);
    
    
  });
  areaMinor.forEach(function (v) {
    const el = addLine(group, axes.left, axes.y(v), axes.right, axes.y(v), '#f1f1f1', 2);
    
    
  });
  slopeTicksFull.forEach(function (v) {
    if (axes.x(v) < axes.left) return;
    const el = addLine(group, axes.x(v), axes.top, axes.x(v), axes.bottom, '#ebebeb', 3);
    
    
  });
  exponents.forEach(function (v) {
    const el = addLine(group, axes.left, axes.y(v), axes.right, axes.y(v), '#ebebeb', 3);
    
    
  });

  panelSeries[id].forEach(function (series) {
    series[0].forEach(function (point) {
      const dot = document.createElementNS(NS, 'circle');
      dot.setAttribute('cx', axes.x(point[0]));
      dot.setAttribute('cy', axes.y(point[1]));
      dot.setAttribute('r', 5.3);
      dot.setAttribute('fill', series[1]);
      dot.setAttribute('fill-opacity', 0.5);
      dot.setAttribute('stroke', series[1]);
      dot.setAttribute('stroke-opacity', 0.5);
      dot.setAttribute('stroke-width', 2);
      
      
      group.appendChild(dot);
    });
  });

  const frame = document.createElementNS(NS, 'rect');
  frame.setAttribute('x', axes.left);
  frame.setAttribute('y', axes.top);
  frame.setAttribute('width', axes.right - axes.left);
  frame.setAttribute('height', axes.bottom - axes.top);
  frame.setAttribute('class', 'border');
  
  
  group.appendChild(frame);

  slopeTicks.forEach(function (v) {
    const mark = addLine(group, axes.x(v), axes.bottom, axes.x(v), axes.bottom + 11, '#333', 3);
    
    
    const label = document.createElementNS(NS, 'text');
    label.setAttribute('class', 'tick');
    label.setAttribute('x', axes.x(v));
    label.setAttribute('y', axes.bottom + 42);
    label.setAttribute('text-anchor', 'middle');
    
    
    label.textContent = String(v);
    group.appendChild(label);
  });

  if (id === 'a2' || id === 'b2') return;

  exponents.forEach(function (v) {
    const mark = addLine(group, axes.left - 11, axes.y(v), axes.left, axes.y(v), '#333', 3);
    
    
    const label = document.createElementNS(NS, 'text');
    label.setAttribute('class', 'tick');
    label.setAttribute('x', axes.left - 19);
    label.setAttribute('y', axes.y(v) + 17);
    label.setAttribute('text-anchor', 'end');
    
    
    const base = document.createElementNS(NS, 'tspan');
    base.textContent = '10';
    const power = document.createElementNS(NS, 'tspan');
    power.setAttribute('dy', -14);
    power.setAttribute('font-size', 22);
    power.textContent = String(v);
    label.appendChild(base);
    label.appendChild(power);
    group.appendChild(label);
  });
}

drawPanel('a1', slopeTicksFull, areaExponentsA, areaMinorA);
drawPanel('a2', slopeTicksFull, areaExponentsA, areaMinorA);
drawPanel('b1', slopeTicksFull, areaExponentsB, areaMinorB);
drawPanel('b2', slopeTicksFull, areaExponentsB, areaMinorB);
drawPanel('c', slopeTicksShort, areaExponentsB, areaMinorB);
drawPanel('d', slopeTicksShort, areaExponentsB, areaMinorB);
</script>
</body>
</html>
